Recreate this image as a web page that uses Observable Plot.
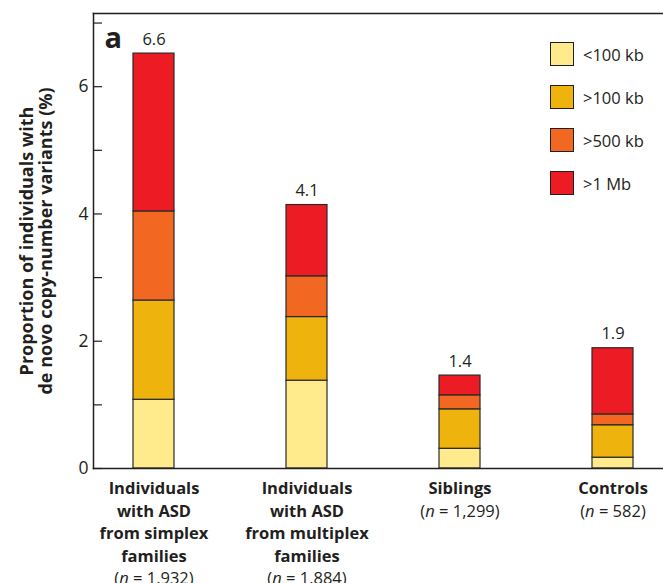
<!DOCTYPE html>
<html>
<head>
<meta charset="utf-8">
<script src="https://cdn.jsdelivr.net/npm/d3@7"></script>
<script src="https://cdn.jsdelivr.net/npm/@observablehq/plot@0.6"></script>
<style>
  html, body { margin: 0; padding: 0; background: #fff; }
  #wrap { position: relative; width: 663px; height: 583px; font-family: "Open Sans", sans-serif; color: #231F20; }
  #legend { position: absolute; left: 550px; top: 42px; }
  .item { display: flex; align-items: center; height: 24px; margin-bottom: 19px; }
  .sw { width: 22px; height: 22px; border: 1px solid #231F20; margin-right: 9px; }
  .lab { font-size: 16.5px; }
</style>
</head>
<body>
<div id="wrap"><div id="chart"></div><div id="legend"></div></div>
<script>
// ---- data ----
const groups = [
  "Individuals\nwith ASD\nfrom simplex\nfamilies",
  "Individuals\nwith ASD\nfrom multiplex\nfamilies",
  "Siblings",
  "Controls"
];
const sampleSizes = ["1,932", "1,884", "1,299", "582"];
const sizeClasses = ["<100 kb", ">100 kb", ">500 kb", ">1 Mb"];
const classColors = ["#FFEB8C", "#EEB30C", "#F26722", "#ED1C24"];
const under100kb = [1.08, 1.38, 0.31, 0.17];
const over100kb  = [1.56, 1.00, 0.62, 0.51];
const over500kb  = [1.40, 0.64, 0.22, 0.17];
const over1Mb    = [2.48, 1.12, 0.31, 1.04];
const totalLabels = ["6.6", "4.1", "1.4", "1.9"];
const yTickValues = [0, 1, 2, 3, 4, 5, 6, 7];
const yTickLabels = [0, 2, 4, 6];
const yMax = 7.15;

const series = [under100kb, over100kb, over500kb, over1Mb];
const rows = [];
groups.forEach((g, i) => series.forEach((s, k) => rows.push({group: g, size: sizeClasses[k], value: s[i]})));
const totals = groups.map((g, i) => d3.sum(series, s => s[i]));

const ink = "#231F20";
const chart = Plot.plot({
  width: 663, height: 583,
  marginTop: 13, marginBottom: 115, marginLeft: 93, marginRight: 0,
  style: {fontFamily: "'Open Sans', sans-serif", color: ink, background: "white", overflow: "visible"},
  x: {domain: groups, paddingInner: 0.732, paddingOuter: 0.2287, align: 0.567, axis: null},
  y: {domain: [0, yMax], axis: null},
  color: {domain: sizeClasses, range: classColors},
  marks: [
    Plot.barY(rows, {x: "group", y: "value", fill: "size", order: sizeClasses, stroke: "#2a2a2a", strokeWidth: 1.2}),
    Plot.ruleY(yTickValues, {insetRight: 561, stroke: ink, strokeWidth: 1.2}),
    Plot.text(yTickLabels, {y: d => d, frameAnchor: "left", text: d => String(d), textAnchor: "end", dx: -5, fontSize: 17.5, fill: ink}),
    Plot.frame({anchor: "left", stroke: ink, strokeWidth: 1.5}),
    Plot.frame({anchor: "top", stroke: ink, strokeWidth: 1.5}),
    Plot.frame({anchor: "bottom", stroke: ink, strokeWidth: 1.5}),
    Plot.text(groups, {x: d => d, y: (d, i) => totals[i], text: (d, i) => totalLabels[i], lineAnchor: "bottom", dy: -9, fontSize: 16.5, fill: ink}),
    Plot.text(groups, {x: d => d, frameAnchor: "bottom", text: (d, i) => d + "\n(n = " + sampleSizes[i] + ")",
      lineAnchor: "top", dy: 10, lineHeight: 1.36, fontSize: 16.5, fontWeight: "bold", fill: ink}),
    Plot.text(["a"], {frameAnchor: "top-left", text: d => d, textAnchor: "start", lineAnchor: "bottom", dx: 11, dy: 34, fontSize: 29, fontWeight: "bold", fill: ink}),
    Plot.text(["Proportion of individuals with\nde novo copy-number variants (%)"], {frameAnchor: "left", text: d => d, rotate: -90,
      textAnchor: "middle", lineAnchor: "middle", dx: -57, lineHeight: 1.05, fontSize: 18, fontWeight: "bold", fill: ink})
  ]
});
document.getElementById("chart").appendChild(chart);

// italic "n" in sample-size lines, regular weight
const svgNS = "http://www.w3.org/2000/svg";
chart.querySelectorAll("tspan").forEach(t => {
  const s = t.textContent;
  if (s.startsWith("(n =")) {
    t.textContent = "";
    t.setAttribute("font-weight", "normal");
    const a = document.createElementNS(svgNS, "tspan"); a.textContent = "(";
    const b = document.createElementNS(svgNS, "tspan"); b.textContent = "n"; b.setAttribute("font-style", "italic");
    const c = document.createElementNS(svgNS, "tspan"); c.textContent = s.slice(2);
    t.append(a, b, c);
  }
});

// legend
const legend = document.getElementById("legend");
sizeClasses.forEach((c, i) => {
  const item = document.createElement("div"); item.className = "item";
  const sw = document.createElement("div"); sw.className = "sw"; sw.style.background = classColors[i];
  const lb = document.createElement("div"); lb.className = "lab"; lb.textContent = c;
  item.append(sw, lb); legend.appendChild(item);
});
</script>
</body>
</html>
